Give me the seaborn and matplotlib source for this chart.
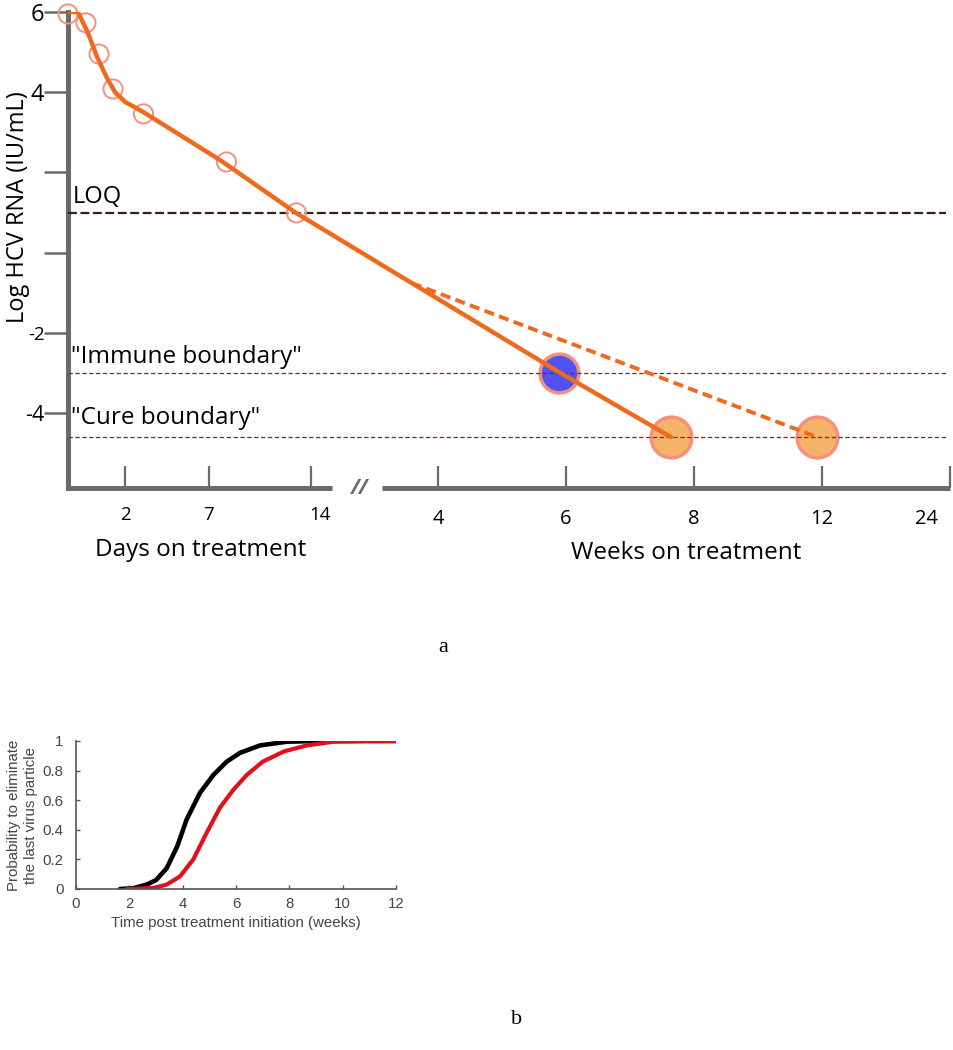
import numpy as np
import seaborn as sns
import matplotlib.pyplot as plt
from matplotlib.transforms import ScaledTranslation

# -----------------------------
# data
# -----------------------------
# panel a: log HCV RNA, measured points (days)
obs_days = [0, 0.63, 1.09, 1.58, 3.1, 8.2, 13.0]
obs_log = [5.95, 5.73, 4.95, 4.08, 3.46, 2.26, 0.99]

# model fit, first two weeks (days)
fit_days = [0, 0.35, 0.70, 1.02, 1.37, 1.65, 2.0, 3.07, 7.75, 12.97]
fit_days_log = [6.0, 6.0, 5.48, 4.88, 4.35, 4.0, 3.76, 3.51, 2.31, 0.99]
# model fit continued (weeks)
fit_weeks = [3.59, 5.89, 7.64]
fit_weeks_log = [-0.76, -2.98, -4.6]
# slower decline (dashed)
slow_weeks = [3.59, 11.85]
slow_log = [-0.76, -4.6]

loq = 1.0
immune = -3.0
cure = -4.6
immune_hit = (5.89, -3.0)
cure_hits_weeks = [7.64, 11.85]
cure_hits_log = [-4.6, -4.6]

day_ticks = [2, 7, 14]
week_ticks = [4, 6, 8, 12, 24]
ytick_vals = [6, 4, 2, 0, -2, -4]
ytick_labels = ["6", "4", "", "", "-2", "-4"]

# panel b: probability to eliminate the last virus particle
t_black = [1.65, 2.15, 2.65, 3.0, 3.4, 3.8, 4.15, 4.65, 5.15, 5.65, 6.15, 6.9, 7.9, 9.0, 12.0]
p_black = [0, 0.005, 0.03, 0.06, 0.14, 0.29, 0.47, 0.65, 0.77, 0.86, 0.92, 0.97, 0.995, 1.0, 1.0]
t_red = [1.9, 2.9, 3.4, 3.9, 4.4, 4.9, 5.4, 5.9, 6.4, 7.0, 7.8, 8.65, 9.65, 10.9, 12.0]
p_red = [0, 0.007, 0.03, 0.085, 0.2, 0.38, 0.55, 0.67, 0.77, 0.86, 0.93, 0.97, 0.995, 1.0, 1.0]

# -----------------------------
# broken time axis: days on the left, weeks on the right
# -----------------------------
day_anchor = [0, 2, 7, 14]
day_anchor_pos = [68, 125, 209, 311]
week_anchor = [3, 4, 6, 8, 12, 24]
week_anchor_pos = [374, 438, 566, 694, 822, 950]


def dpos(d):
    return np.interp(d, day_anchor, day_anchor_pos)


def wpos(w):
    return np.interp(w, week_anchor, week_anchor_pos)


sns.set_theme(style="white")
plt.rcParams['font.family'] = ['Open Sans', 'DejaVu Sans']
plt.rcParams['text.color'] = 'black'
plt.rcParams['axes.labelcolor'] = 'black'
plt.rcParams['xtick.labelcolor'] = 'black'
plt.rcParams['ytick.labelcolor'] = 'black'

W, H = 954, 1050
fig = plt.figure(figsize=(W / 100, H / 100), dpi=100)

gray = "#6b6b6b"
orange = "#f06a1e"
salmon = "#f4907c"

ax = fig.add_axes([68 / W, 1 - 488 / H, (950 - 68) / W, (488 - 12) / H])
ax.set_xlim(68, 950)
ax.set_ylim(-5.87, 6)
for s in ["top", "right", "bottom"]:
    ax.spines[s].set_visible(False)
ax.spines["left"].set_color(gray)
ax.spines["left"].set_linewidth(3.6)

# reference levels
ax.axhline(loq, xmin=0, xmax=0.995, color="#3b1c1c", lw=1.6, dashes=(4, 1.6), zorder=3)
ax.axhline(immune, xmin=0, xmax=0.995, color="#6b2e2e", lw=0.9, dashes=(3.5, 2), zorder=3)
ax.axhline(cure, xmin=0, xmax=0.995, color="#6b2e2e", lw=0.9, dashes=(3.5, 2), zorder=3)

# big circles (immune / cure boundary hits)
sns.scatterplot(x=wpos([immune_hit[0]]), y=[immune_hit[1]], ax=ax, s=780,
                color="#5252f2", edgecolor=salmon, linewidth=2.5, zorder=2)
sns.scatterplot(x=wpos(cure_hits_weeks), y=cure_hits_log, ax=ax, s=860,
                color="#f5b36a", edgecolor=salmon, linewidth=2.5, zorder=2)

# observed data
sns.scatterplot(x=dpos(obs_days), y=obs_log, ax=ax, s=190, facecolor="none",
                edgecolor=salmon, linewidth=1.4, zorder=4, clip_on=False)

# model lines
fit_x = np.concatenate([dpos(fit_days), wpos(fit_weeks)])
fit_y = fit_days_log + fit_weeks_log
sns.lineplot(x=fit_x, y=fit_y, ax=ax, sort=False, color=orange, lw=3.2, zorder=5)
sns.lineplot(x=wpos(slow_weeks), y=slow_log, ax=ax, sort=False, color=orange, lw=2.8, zorder=5)
ax.lines[-1].set_dashes((2.6, 1.4))

# broken x axis
ymin = ax.get_ylim()[0]
ax.plot([66, 332], [ymin, ymin], color=gray, lw=3.6, solid_capstyle="butt", clip_on=False)
ax.plot([382, 950], [ymin, ymin], color=gray, lw=3.6, solid_capstyle="butt", clip_on=False)
ax.text(360, ymin, "//", color=gray, fontsize=15, fontweight="bold", ha="center", va="center",
        style="italic")

xt = list(dpos(day_ticks)) + list(wpos(week_ticks))
xl = [str(d) for d in day_ticks] + [str(w) for w in week_ticks]
ax.set_xticks(xt, xl)
ax.tick_params(axis="x", direction="in", length=16, width=1.6, color=gray, pad=15,
               labelsize=14.5, bottom=True)
labs = ax.get_xticklabels()
for lab in labs[:3]:
    lab.set_fontsize(13.5)
    lab.set_transform(lab.get_transform() + ScaledTranslation(0, 0.03, fig.dpi_scale_trans))
labs[2].set_transform(labs[2].get_transform() + ScaledTranslation(0.09, 0, fig.dpi_scale_trans))
labs[-1].set_transform(labs[-1].get_transform() + ScaledTranslation(-0.23, 0, fig.dpi_scale_trans))

ax.set_yticks(ytick_vals, ytick_labels)
ax.tick_params(axis="y", direction="out", length=17, width=1.8, color=gray, pad=0,
               labelsize=17, left=True)
ylabs = ax.get_yticklabels()
ylabs[4].set_fontsize(13.5)
ylabs[5].set_fontsize(15.5)

ax.set_ylabel("Log HCV RNA (IU/mL)", fontsize=17)
ax.yaxis.set_label_coords(-38 / (950 - 68), 0.59)

ax.text(73, 1.39, "LOQ", fontsize=17, ha="left", va="center")
ax.text(71, -2.6, "\"Immune boundary\"", fontsize=17.5, ha="left", va="center")
ax.text(71, -4.12, "\"Cure boundary\"", fontsize=17.5, ha="left", va="center")

fig.text(201 / W, 1 - 550 / H, "Days on treatment", fontsize=17.5, ha="center", va="center")
fig.text(686 / W, 1 - 553 / H, "Weeks on treatment", fontsize=17.5, ha="center", va="center")
fig.text(443 / W, 1 - 648 / H, "a", fontsize=16, family="Liberation Serif", ha="center", va="center")
fig.text(517 / W, 1 - 1020 / H, "b", fontsize=16, family="Liberation Serif", ha="center", va="center")

# -----------------------------
# panel b
# -----------------------------
bgray = "#444444"
ax2 = fig.add_axes([76 / W, 1 - 889 / H, 320 / W, 148 / H])
sns.lineplot(x=t_black, y=p_black, ax=ax2, color="black", lw=3.3, sort=False)
sns.lineplot(x=t_red, y=p_red, ax=ax2, color="#e3101c", lw=3.0, sort=False)
ax2.set_xlim(0, 12)
ax2.set_ylim(0, 1)
for s in ["top", "right"]:
    ax2.spines[s].set_visible(False)
for s in ["left", "bottom"]:
    ax2.spines[s].set_color("#555555")
    ax2.spines[s].set_linewidth(1.2)
ax2.set_xticks(np.arange(0, 13, 2))
ax2.set_yticks([0, 0.2, 0.4, 0.6, 0.8, 1], ["0", "0.2", "0.4", "0.6", "0.8", "1"])
ax2.tick_params(direction="in", length=3, width=1, color="#555555", labelsize=10.8,
                labelcolor=bgray, left=True, bottom=True)
ax2.tick_params(axis="y", pad=9)
ax2.tick_params(axis="x", pad=6)
for lab in ax2.get_xticklabels() + ax2.get_yticklabels():
    lab.set_family("Liberation Sans")
ax2.set_xlabel("Time post treatment initiation (weeks)", fontsize=10.8, color=bgray,
               family="Liberation Sans", labelpad=3)
ax2.set_ylabel("Probability to eliminate\nthe last virus particle", fontsize=10.8, color=bgray,
               family="Liberation Sans", linespacing=1.25)
ax2.yaxis.set_label_coords(-38 / 320, 0.5)

fig.savefig("out.png", dpi=100)
